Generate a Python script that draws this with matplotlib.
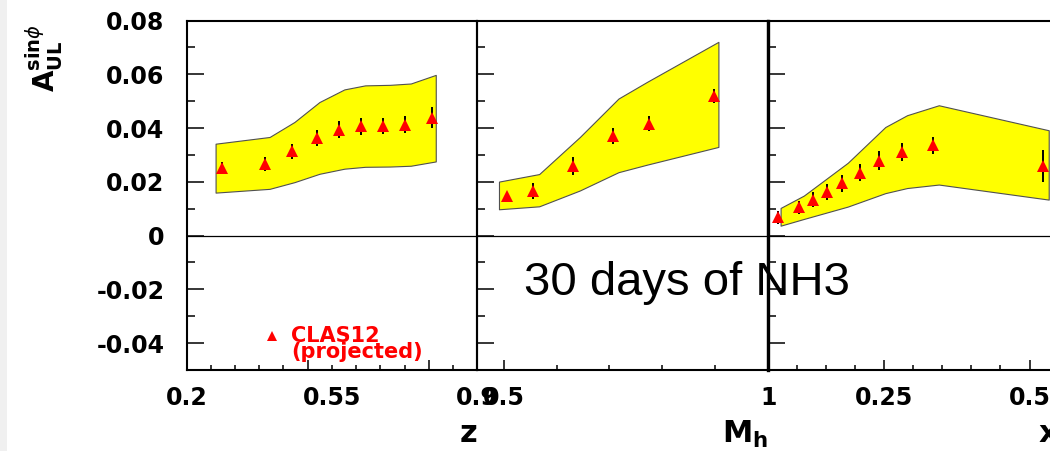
import matplotlib

matplotlib.use("Agg")
import matplotlib.pyplot as plt
from matplotlib.patches import Rectangle

plt.rcParams["font.family"] = ["DejaVu Sans"]
plt.rcParams["mathtext.fontset"] = "dejavusans"

# asymmetry vs z
z_pts = [0.285, 0.39, 0.455, 0.513, 0.568, 0.62, 0.673, 0.727, 0.79]
z_val = [0.0251, 0.0267, 0.0313, 0.0363, 0.0394, 0.0407, 0.0408, 0.0412, 0.0439]
z_err = [0.0023, 0.0027, 0.0028, 0.0029, 0.0031, 0.0032, 0.0031, 0.0032, 0.0038]
z_band_x = [0.27, 0.40, 0.46, 0.52, 0.58, 0.63, 0.69, 0.74, 0.80]
z_band_hi = [0.0342, 0.0367, 0.0423, 0.0497, 0.0544, 0.0559, 0.0561, 0.0566, 0.0598]
z_band_lo = [0.0160, 0.0174, 0.0199, 0.0230, 0.0249, 0.0256, 0.0257, 0.0260, 0.0276]

# asymmetry vs M_h
mh_pts = [0.507, 0.556, 0.631, 0.706, 0.774, 0.898]
mh_val = [0.0147, 0.0165, 0.0259, 0.0371, 0.0417, 0.0520]
mh_err = [0.0010, 0.0029, 0.0034, 0.0030, 0.0027, 0.0025]
mh_band_x = [0.491, 0.567, 0.644, 0.717, 0.771, 0.906]
mh_band_hi = [0.0201, 0.0229, 0.0367, 0.0510, 0.0572, 0.0721]
mh_band_lo = [0.0098, 0.0109, 0.0168, 0.0236, 0.0264, 0.0330]

# asymmetry vs x
x_pts = [0.067, 0.1045, 0.128, 0.152, 0.178, 0.208, 0.242, 0.280, 0.334, 0.523]
x_val = [0.0068, 0.0106, 0.0133, 0.0162, 0.0194, 0.0234, 0.0279, 0.0311, 0.0336, 0.0259]
x_err = [0.0025, 0.0024, 0.0028, 0.0030, 0.0031, 0.0032, 0.0034, 0.0034, 0.0031, 0.0059]
x_band_x = [0.072, 0.112, 0.1875, 0.252, 0.2895, 0.344, 0.533]
x_band_hi = [0.0103, 0.0149, 0.0271, 0.0404, 0.0448, 0.0485, 0.0392]
x_band_lo = [0.0037, 0.0062, 0.0108, 0.0158, 0.0177, 0.0190, 0.0134]

y_major = [-0.04, -0.02, 0.0, 0.02, 0.04, 0.06, 0.08]
y_labels = ["-0.04", "-0.02", "0", "0.02", "0.04", "0.06", "0.08"]
y_minor = [-0.03, -0.01, 0.01, 0.03, 0.05, 0.07]

# tick layout per panel: (limits, labelled ticks, labels, short ticks, tall ticks)
z_step = 0.7 / 12
z_ticks = [0.2 + k * z_step for k in range(13)]
panels = [
    ((0.2, 0.9), [0.2, 0.55, 0.9], ["0.2", "0.55", "0.9"],
     [t for k, t in enumerate(z_ticks) if k not in (5, 10)], [z_ticks[5], z_ticks[10]]),
    ((0.45, 1.0), [0.5, 1.0], ["0.5", "1"],
     [0.6, 0.7, 0.8, 0.9], [0.5, 1.0]),
    ((0.05, 0.55), [0.25, 0.5], ["0.25", "0.5"],
     [0.1, 0.15, 0.2, 0.3, 0.35, 0.4, 0.45], [0.25, 0.5]),
]
series = [
    (z_pts, z_val, z_err, z_band_x, z_band_hi, z_band_lo, "z", 22),
    (mh_pts, mh_val, mh_err, mh_band_x, mh_band_hi, mh_band_lo, r"$\mathbf{M_h}$", 22),
    (x_pts, x_val, x_err, x_band_x, x_band_hi, x_band_lo, "x", 22),
]

W, H = 1050, 451
fig = plt.figure(figsize=(W / 100, H / 100), dpi=100)
fig.patches.append(Rectangle((0, 0), 7 / W, 1, transform=fig.transFigure,
                             facecolor="#f0f0f0", edgecolor="none", zorder=-5))

bottom = 1 - 370 / H
height = (370 - 20.6) / H
width = 290.8 / W
lefts = [186.5 / W, 477.3 / W, 767.8 / W]

axes = []
for i, left in enumerate(lefts):
    ax = fig.add_axes([left, bottom, width, height])
    ax.set_facecolor("none")
    (xlim, lab_t, lab_s, short_t, tall_t) = panels[i]
    (px, pv, pe, bx, bhi, blo, xlabel, xls) = series[i]

    ax.fill_between(bx, blo, bhi, facecolor="#ffff00", edgecolor="#505050",
                    linewidth=0.8, zorder=1)
    ax.axhline(0, color="black", linewidth=0.9, zorder=2)
    ax.errorbar(px, pv, yerr=pe, fmt="none", ecolor="black", elinewidth=1.4,
                capsize=0, zorder=3)
    ax.plot(px, pv, linestyle="none", marker="^", markersize=8,
            color="#ff0000", markeredgewidth=0, zorder=4)

    ax.set_xlim(*xlim)
    ax.set_ylim(-0.05, 0.08)

    ax.set_yticks(y_major)
    ax.set_yticks(y_minor, minor=True)
    if i == 0:
        ax.set_yticklabels(y_labels, fontsize=17, fontweight="bold")
    else:
        ax.set_yticklabels([])
    ax.tick_params(axis="y", which="major", direction="in", length=12.5, width=1.1,
                   pad=16, left=True, right=False)
    ax.tick_params(axis="y", which="minor", direction="in", length=6, width=1.1,
                   left=True, right=False)

    ax.set_xticks(short_t)
    ax.set_xticklabels([])
    ax.set_xticks(tall_t, minor=True)
    ax.tick_params(axis="x", which="major", direction="in", length=3.8, width=1.1,
                   top=False)
    ax.tick_params(axis="x", which="minor", direction="in", length=7.5, width=1.1,
                   top=False)
    for t, s in zip(lab_t, lab_s):
        ax.text(t, -0.045, s, transform=ax.get_xaxis_transform(), ha="center",
                va="top", fontsize=17, fontweight="bold", clip_on=False)

    ax.text(1.0, -0.14, xlabel, transform=ax.transAxes, ha="right", va="top",
            fontsize=xls, fontweight="bold", clip_on=False)

    for side in ("left", "right", "top", "bottom"):
        ax.spines[side].set_linewidth(1.5)
        ax.spines[side].set_zorder(5)
    axes.append(ax)

axes[2].spines["left"].set_linewidth(2.4)

# legend entry
ax1 = axes[0]
ax1.plot([271.7 / W], [1 - 336 / H], transform=fig.transFigure, marker="^",
         markersize=7, color="#ff0000", markeredgewidth=0, linestyle="none",
         clip_on=False)
ax1.text(291.5 / W, 1 - 342 / H, "CLAS12", transform=fig.transFigure,
         color="#ff0000", fontsize=15, fontweight="bold", va="baseline", ha="left")
ax1.text(291.5 / W, 1 - 358.5 / H, "(projected)", transform=fig.transFigure,
         color="#ff0000", fontsize=15, fontweight="bold", va="baseline", ha="left")

axes[1].text(524 / W, 1 - 295 / H, "30 days of NH3", transform=fig.transFigure,
             fontsize=34, family="Liberation Sans", color="black",
             va="baseline", ha="left", clip_on=False, zorder=0)

fig.text(44 / W, 1 - 24 / H, r"$\mathbf{A}^{\mathbf{sin}\phi}_{\mathbf{UL}}$",
         rotation=90, ha="center", va="top", fontsize=20)

fig.savefig("out.png", dpi=100, facecolor="white")
